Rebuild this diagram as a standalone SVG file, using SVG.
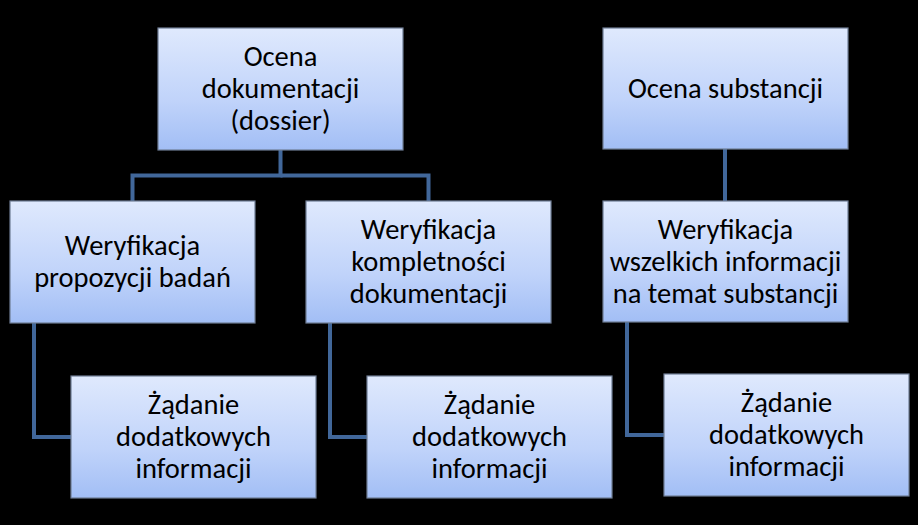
<svg xmlns="http://www.w3.org/2000/svg" width="918" height="525" viewBox="0 0 918 525">
<defs>
<linearGradient id="g" x1="0" y1="0" x2="0" y2="1">
<stop offset="0" stop-color="#dfe9fd"/>
<stop offset="0.6" stop-color="#c0d3fa"/>
<stop offset="1" stop-color="#a2bef5"/>
</linearGradient>
<style>
.box{fill:url(#g);stroke:#6f7d95;stroke-width:1.2}
.t{font-family:Carlito,Lato,"Open Sans","Liberation Sans",sans-serif;font-size:28.5px;fill:#000;text-anchor:middle}
.c{fill:none;stroke:#41679a;stroke-width:4;stroke-linejoin:miter}
</style>
</defs>
<rect width="918" height="525" fill="#000"/>
<g id="connectors">
<path class="c" d="M280.5 150 V175.5 H132.5 V201"/>
<path class="c" d="M280.5 175.5 H428.5 V201"/>
<path class="c" d="M725 149 V201"/>
<path class="c" d="M34 323 V437 H71"/>
<path class="c" d="M330 323 V437 H367"/>
<path class="c" d="M627 322 V435 H664"/>
</g>
<g id="n1"><rect class="box" x="158" y="28" width="245" height="122"/>
<text class="t" x="280.5" y="66">Ocena</text><text class="t" x="280.5" y="98">dokumentacji</text><text class="t" x="280.5" y="130">(dossier)</text></g>
<g id="n2"><rect class="box" x="10" y="201" width="245" height="122"/>
<text class="t" x="132.5" y="255">Weryfikacja</text><text class="t" x="132.5" y="287">propozycji badań</text></g>
<g id="n3"><rect class="box" x="306" y="201" width="245" height="122"/>
<text class="t" x="428.5" y="239">Weryfikacja</text><text class="t" x="428.5" y="271">kompletności</text><text class="t" x="428.5" y="303">dokumentacji</text></g>
<g id="n4"><rect class="box" x="603" y="28" width="245" height="121"/>
<text class="t" x="725.5" y="98">Ocena substancji</text></g>
<g id="n5"><rect class="box" x="603" y="201" width="245" height="121"/>
<text class="t" x="725.5" y="239">Weryfikacja</text><text class="t" x="725.5" y="271">wszelkich informacji</text><text class="t" x="725.5" y="303">na temat substancji</text></g>
<g id="n6"><rect class="box" x="71" y="376" width="245" height="122"/>
<text class="t" x="193.5" y="414">Żądanie</text><text class="t" x="193.5" y="446">dodatkowych</text><text class="t" x="193.5" y="478">informacji</text></g>
<g id="n7"><rect class="box" x="367" y="376" width="245" height="122"/>
<text class="t" x="489.5" y="414">Żądanie</text><text class="t" x="489.5" y="446">dodatkowych</text><text class="t" x="489.5" y="478">informacji</text></g>
<g id="n8"><rect class="box" x="664" y="374" width="245" height="122"/>
<text class="t" x="786.5" y="412">Żądanie</text><text class="t" x="786.5" y="444">dodatkowych</text><text class="t" x="786.5" y="476">informacji</text></g>
</svg>
